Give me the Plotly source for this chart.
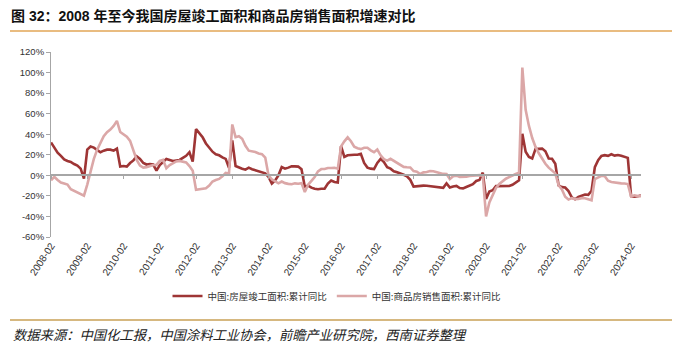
import plotly.graph_objects as go

# Monthly cumulative data (Jan merged into Feb), Feb-2008 .. May-2024
months = [f"{y}-{m:02d}" for y in range(2008, 2025) for m in range(2, 13)][:180]
tick_labels = [f"{y}-02" for y in range(2008, 2025)]
y_ticks = [-60, -40, -20, 0, 20, 40, 60, 80, 100, 120]

# 中国:房屋竣工面积:累计同比 (%)
completed_yoy = [
    32, 27.5, 22, 19, 15.5, 14, 13, 11, 9.5, 6.5, -3.2,                      # 2008
    25, 28, 27, 25, 22.5, 24, 25, 25, 24, 26, 8.5,                           # 2009
    9, 8.5, 12, 14.5, 18.5, 16, 12, 10.5, 11, 10.5, 4.5,                     # 2010
    10, 13, 16, 15, 14, 14.5, 15, 17, 19, 22.5, 13.3,                        # 2011
    45, 41, 37, 31, 27, 23, 20.5, 19.5, 17.5, 16, 7.3,                       # 2012
    34, 9, 7.5, 6.5, 5.5, 7.5, 6, 5, 3.5, 2.5, 2.0,                          # 2013
    -1.6, -8, -5, 0, 8, 6.5, 7.5, 8.7, 8.7, 8.5, 5.9,                        # 2014
    -11, -10, -12, -13, -13.5, -13, -13, -8, -5, -6.5, -6.9,                 # 2015
    28.5, 18, 19.5, 20, 20, 20, 21, 12, 7.5, 6.5, 6.1,                       # 2016
    12, 16, 13, 8, 6.5, 4, 3, 2, 0.5, -1, -4.4,                              # 2017
    -11, -10.5, -10, -10, -10.2, -10.5, -11, -11.5, -12, -12.2, -7.8,        # 2018
    -11.9, -10.8, -10.3, -12.4, -12.7, -11.3, -10.0, -8.6, -5.5, -4.5, 2.6,  # 2019
    -22.9, -15.8, -14.5, -10.5, -10.5, -11.0, -10.8, -10.4, -9.2, -7.3, -4.9,  # 2020
    40.4, 22.9, 17.9, 16.4, 25.7, 25.7, 26.0, 23.4, 16.3, 16.2, 11.2,        # 2021
    -9.9, -11.5, -11.9, -15.3, -21.5, -23.3, -21.1, -19.9, -18.7, -19.0, -15.0,  # 2022
    8.0, 14.7, 18.8, 19.6, 19.0, 20.5, 19.2, 19.8, 19.0, 18.0, 17.0,         # 2023
    -20.2, -20.7, -20.4, -19.6,                                              # 2024
]

# 中国:商品房销售面积:累计同比 (%)
sales_yoy = [
    -4.8, -1.5, -4.5, -7, -8, -9, -13.5, -15, -16.5, -18.5, -19.7,           # 2008
    -9, 4, 16, 25, 32, 38, 42, 44.5, 48, 53, 42.1,                           # 2009
    40, 37.5, 33.5, 24, 15, 9.5, 7.5, 8, 9, 10, 10.1,                        # 2010
    14, 15, 7, 10, 12, 13.5, 14, 13.5, 12.5, 9, 4.4,                         # 2011
    -14, -13.6, -13.3, -12.5, -10, -6, -4.5, -3.5, -1, 2.4, 1.8,             # 2012
    49.5, 37.1, 38.0, 35.6, 28.7, 24.0, 23.7, 22.7, 21.3, 20.6, 17.3,        # 2013
    -0.1, -3.8, -6.0, -7.8, -6.0, -7.6, -8.3, -8.6, -7.8, -8.2, -7.6,        # 2014
    -16.3, -9.2, -5.4, -1.6, 3.9, 6.1, 6.2, 7.2, 7.2, 7.4, 6.5,              # 2015
    28.2, 33.1, 37.0, 33.2, 27.9, 26.4, 25.5, 26.9, 26.8, 24.3, 22.5,        # 2016
    25.1, 19.5, 15.7, 14.3, 16.1, 14.0, 12.7, 10.3, 8.2, 7.9, 7.7,           # 2017
    4.1, 3.6, 1.3, 2.9, 3.3, 4.2, 4.0, 2.9, 2.2, 1.4, 1.3,                   # 2018
    -3.6, -0.9, -0.3, -1.6, -1.8, -1.3, -0.6, -0.1, 0.1, 0.2, -0.1,          # 2019
    -39.9, -26.3, -19.3, -12.3, -8.4, -5.8, -3.3, -1.8, 0.0, 1.3, 2.6,       # 2020
    104.9, 63.8, 48.1, 36.3, 27.7, 21.5, 15.9, 11.3, 7.5, 4.8, 1.9,          # 2021
    -9.6, -13.8, -20.9, -23.6, -22.2, -23.1, -23.0, -22.2, -22.3, -23.3, -24.3,  # 2022
    -3.6, -1.8, -0.4, -0.9, -5.3, -6.5, -7.1, -7.5, -7.8, -8.0, -8.5,        # 2023
    -20.5, -19.4, -20.2, -20.3,                                              # 2024
]

series_names = ["中国:房屋竣工面积:累计同比", "中国:商品房销售面积:累计同比"]
title_text = "图 32：2008 年至今我国房屋竣工面积和商品房销售面积增速对比"
source_text = "数据来源：中国化工报，中国涂料工业协会，前瞻产业研究院，西南证券整理"

# Page geometry (pixels) and helpers mapping page pixels to paper fractions
W, H = 681, 349
L, R, T, B = 51, 40, 52, 112
PW, PH = W - L - R, H - T - B


def fx(x):
    return (x - L) / PW


def fy(y):
    return (H - B - y) / PH


x_idx = list(range(len(months)))
tick_pos = [months.index(t) for t in tick_labels]

CJK = "Noto Sans CJK SC"
LAT = "Liberation Sans, Noto Sans CJK SC"

fig = go.Figure()
fig.add_trace(go.Scatter(
    x=x_idx, y=completed_yoy, name=series_names[0], mode="lines",
    line=dict(color="#9E3535", width=2.6), hoverinfo="skip",
))
fig.add_trace(go.Scatter(
    x=x_idx, y=sales_yoy, name=series_names[1], mode="lines",
    line=dict(color="#DBA7A7", width=2.6), hoverinfo="skip",
))
# carrier for the zero-level category axis
fig.add_trace(go.Scatter(
    x=x_idx, y=[None] * len(x_idx), xaxis="x2", mode="lines",
    showlegend=False, hoverinfo="skip",
))

fig.update_layout(
    width=W, height=H,
    margin=dict(l=L, r=R, t=T, b=B, pad=0),
    paper_bgcolor="white", plot_bgcolor="white",
    showlegend=True,
    legend=dict(
        orientation="h", x=fx(337), y=fy(296), xanchor="center", yanchor="middle",
        font=dict(family=CJK, size=9.5, color="#333333"),
        itemwidth=30, tracegroupgap=0, bgcolor="rgba(0,0,0,0)",
    ),
    xaxis=dict(
        range=[0, len(months) - 1], tickmode="array", tickvals=tick_pos,
        ticktext=tick_labels, tickangle=-57, ticks="", showline=False,
        showgrid=False, zeroline=False,
        tickfont=dict(family=LAT, size=10, color="#333333"),
    ),
    xaxis2=dict(
        overlaying="x", anchor="free", position=(0 - y_ticks[0]) / (y_ticks[-1] - y_ticks[0]),
        range=[0, len(months) - 1], tickmode="array", tickvals=tick_pos,
        showticklabels=False, ticks="outside", ticklen=3, tickcolor="#A6A6A6",
        showline=True, linecolor="#A6A6A6", linewidth=1.5,
        showgrid=False, zeroline=False,
    ),
    yaxis=dict(
        range=[y_ticks[0], y_ticks[-1]], tickmode="array", tickvals=y_ticks,
        ticktext=[f"{v}%" for v in y_ticks], ticks="outside", ticklen=4,
        tickcolor="#A6A6A6", showline=True, linecolor="#A6A6A6", linewidth=1,
        showgrid=False, zeroline=False,
        tickfont=dict(family=LAT, size=9.5, color="#333333"),
    ),
)

fig.add_annotation(
    x=fx(9), y=fy(16), xref="paper", yref="paper", xanchor="left", yanchor="middle",
    text=f"<b>{title_text}</b>", showarrow=False,
    font=dict(family=LAT, size=14, color="#111111"),
)
fig.add_annotation(
    x=fx(11), y=fy(334), xref="paper", yref="paper", xanchor="left", yanchor="middle",
    text=f"<i>{source_text}</i>", showarrow=False,
    font=dict(family=CJK, size=13.3, color="#222222"),
)
fig.add_shape(type="line", xref="paper", yref="paper",
              x0=fx(10), x1=fx(672), y0=fy(31), y1=fy(31),
              line=dict(color="#E2A656", width=1.5))
fig.add_shape(type="line", xref="paper", yref="paper",
              x0=fx(10), x1=fx(672), y0=fy(320), y1=fy(320),
              line=dict(color="#D6B880", width=2))

fig.write_html("out.html")
